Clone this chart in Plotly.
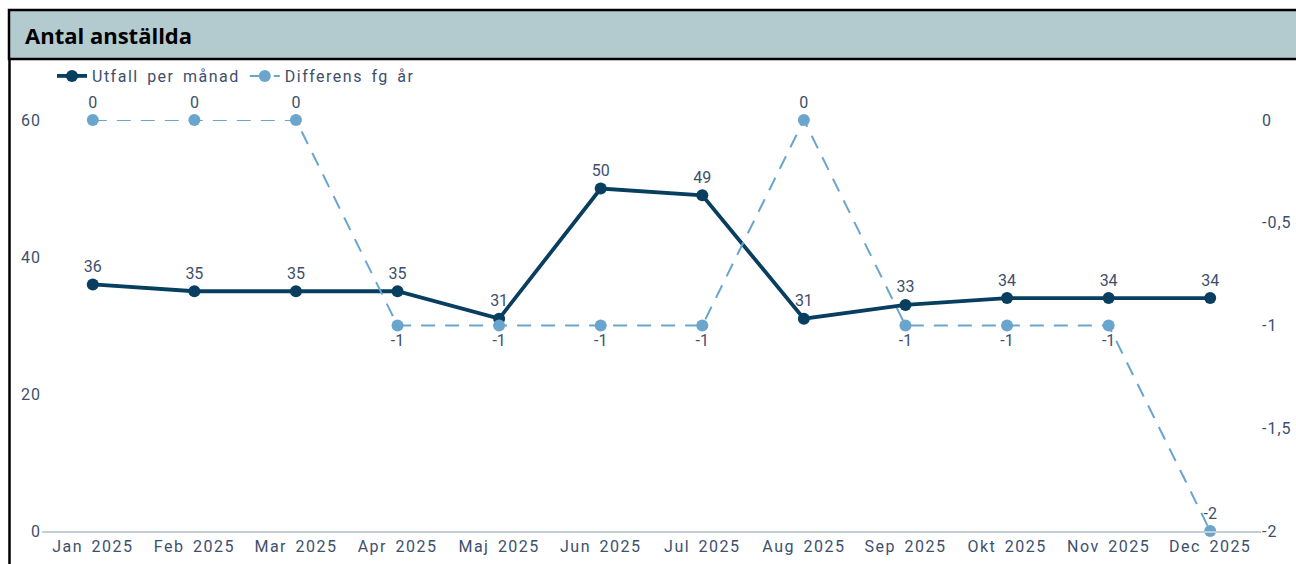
import plotly.graph_objects as go

months = ["Jan 2025", "Feb 2025", "Mar 2025", "Apr 2025", "Maj 2025", "Jun 2025",
          "Jul 2025", "Aug 2025", "Sep 2025", "Okt 2025", "Nov 2025", "Dec 2025"]
utfall = [36, 35, 35, 35, 31, 50, 49, 31, 33, 34, 34, 34]
differens = [0, 0, 0, -1, -1, -1, -1, 0, -1, -1, -1, -2]
left_ticks = [0, 20, 40, 60]
right_ticks = [0, -0.5, -1, -1.5, -2]
right_ticktext = ["0", "-0,5", "-1", "-1,5", "-2"]

W, H = 1296, 564
L, R, T, B = 42, 35, 120, 33
PW = W - L - R
PH = H - T - B

def px(x):
    return (x - L) / PW

def py(y):
    return (H - B - y) / PH

DARK = "#083e5f"
LIGHT = "#6aa5cd"
TXT = "#3d4f6e"
FONT = "Roboto"

diff_pos = ["bottom center" if v == -1 else "top center" for v in differens]

fig = go.Figure()
fig.add_trace(go.Scatter(
    x=months, y=utfall, name="Utfall per månad", mode="lines+markers+text",
    line=dict(color=DARK, width=3.8), marker=dict(color=DARK, size=12),
    text=[str(v) for v in utfall], textposition="top center",
    textfont=dict(family=FONT, size=16, color=TXT), cliponaxis=False,
    yaxis="y"))
fig.add_trace(go.Scatter(
    x=months, y=differens, name="Differens fg år", mode="lines+markers+text",
    line=dict(color=LIGHT, width=2, dash="14px,10px"), marker=dict(color=LIGHT, size=12),
    text=[str(v) for v in differens], textposition=diff_pos,
    textfont=dict(family=FONT, size=16, color=TXT), cliponaxis=False,
    yaxis="y2"))

shapes = [
    dict(type="rect", xref="paper", yref="paper",
         x0=px(9), x1=px(1330), y0=py(59), y1=py(10),
         fillcolor="#b3cbcf", line=dict(color="black", width=2.5), layer="below"),
    dict(type="line", xref="paper", yref="paper",
         x0=px(9.5), x1=px(9.5), y0=py(59), y1=py(590),
         line=dict(color="black", width=2.5)),
]

fig.update_layout(
    width=W, height=H,
    margin=dict(l=L, r=R, t=T, b=B, autoexpand=False),
    paper_bgcolor="white", plot_bgcolor="white",
    font=dict(family=FONT, size=16, color=TXT),
    showlegend=True,
    legend=dict(orientation="h", x=px(52), y=py(59), xanchor="left", yanchor="top",
                font=dict(family=FONT, size=15.9, color=TXT),
                bgcolor="rgba(0,0,0,0)", borderwidth=0),
    xaxis=dict(type="category", range=[-0.5, 11.5], showgrid=False, zeroline=False,
               showline=True, linecolor="#c3ced8", linewidth=2,
               ticks="", tickfont=dict(family=FONT, size=16, color=TXT)),
    yaxis=dict(range=[0, 60], tickvals=left_ticks, showgrid=False, zeroline=False,
               showline=False, ticks="", tickfont=dict(family=FONT, size=16, color=TXT)),
    yaxis2=dict(range=[-2, 0], tickvals=right_ticks, ticktext=right_ticktext,
                overlaying="y", side="right", showgrid=False, zeroline=False,
                showline=False, ticks="", tickfont=dict(family=FONT, size=16, color=TXT)),
    shapes=shapes,
    annotations=[dict(text="<b>Antal anställda</b>", xref="paper", yref="paper",
                      x=px(23), y=py(35), xanchor="left", yanchor="middle",
                      showarrow=False,
                      font=dict(family="Open Sans", size=22, color="black"))],
)

post = """
document.body.style.margin='0';
document.body.style.overflow='hidden';
var s=document.createElement('style');
s.textContent='.legendtext{letter-spacing:1.5px;word-spacing:3px}'+
 '.xtick text{letter-spacing:1.5px;word-spacing:3px}'+
 '.ytick text, .y2tick text{letter-spacing:1px}';
document.head.appendChild(s);
var gd=document.getElementById('{plot_id}');
Plotly.relayout(gd, {'legend.font.size': 16});
"""

fig.write_html("out.html", post_script=post, config={"displayModeBar": False})
